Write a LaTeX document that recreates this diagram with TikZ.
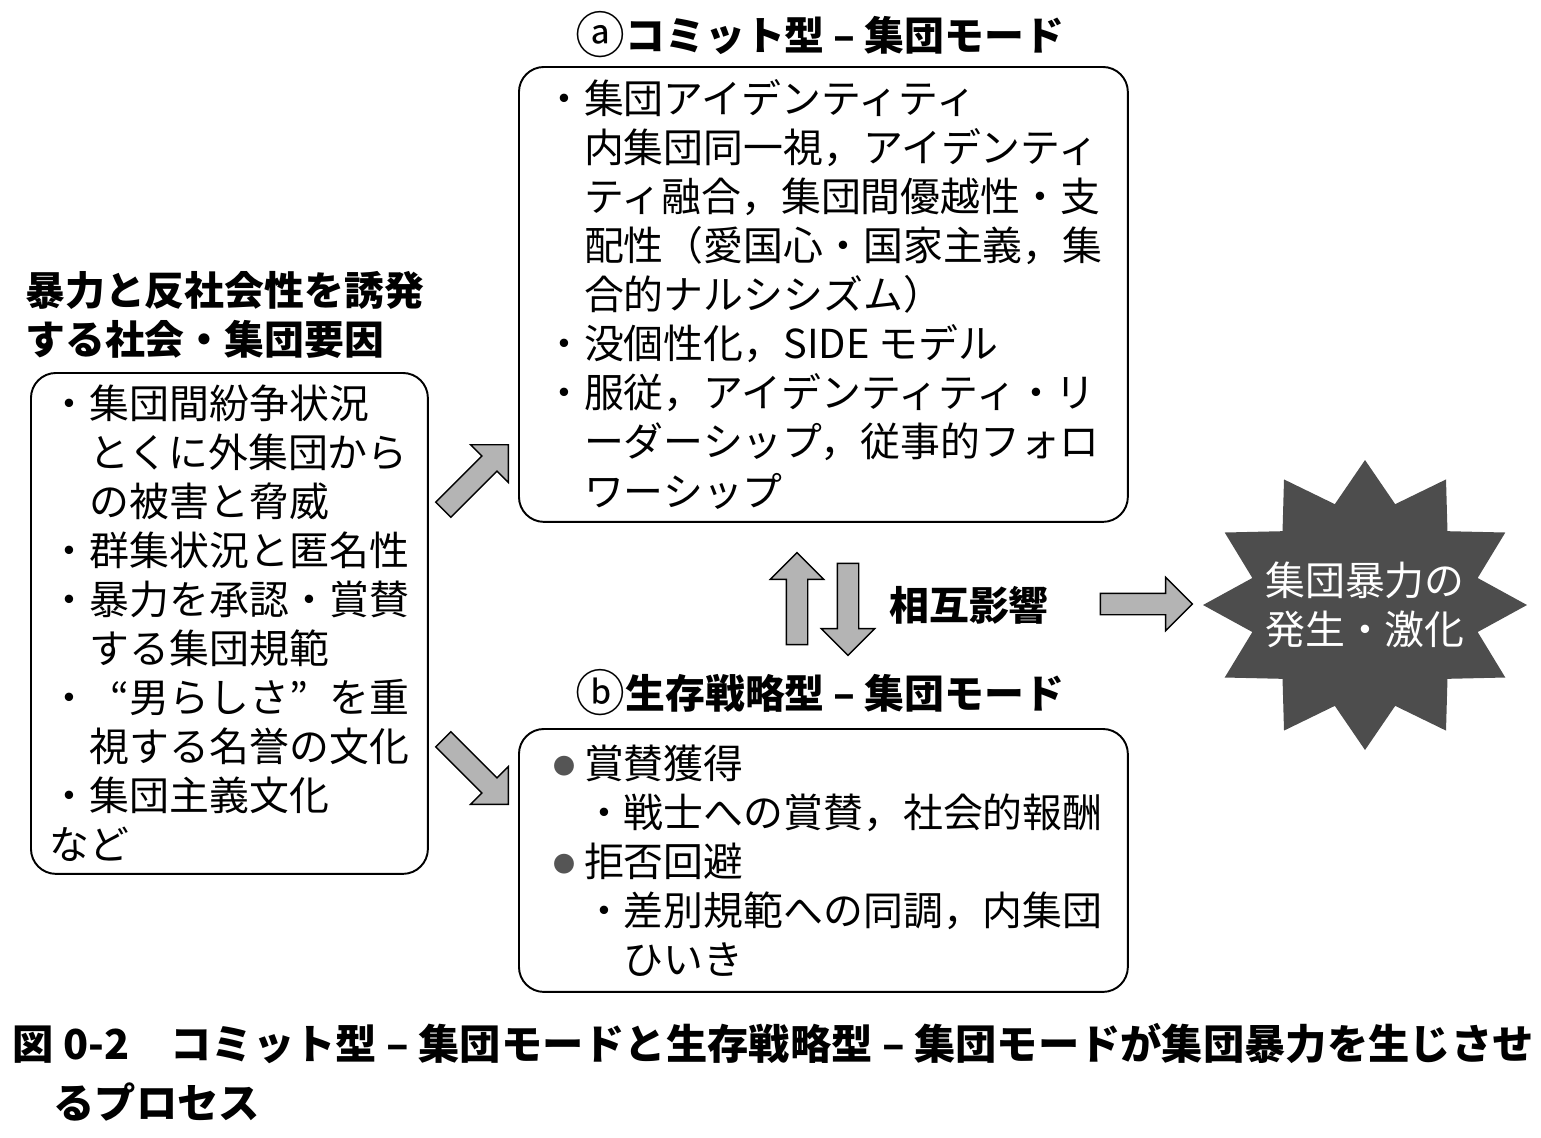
\documentclass[tikz,border=0pt]{standalone}
\usepackage{fontspec}
\setmainfont{Noto Sans CJK JP}
\usepackage{xcolor}
\usetikzlibrary{positioning, shapes.arrows, calc}
\definecolor{arrgray}{RGB}{180,180,180}
\definecolor{burstgray}{RGB}{77,77,77}
\definecolor{dotgray}{RGB}{85,85,85}
\newcommand{\bodyfont}{\fontsize{22.7pt}{27.9pt}\selectfont}
\newcommand{\capfont}{\fontsize{23.5pt}{28.5pt}\selectfont}
\newcommand{\ind}{\hspace*{1em}}
\newcommand{\bigdot}{\makebox[1em]{\raisebox{0.1em}{\fontsize{12.5pt}{12.5pt}\selectfont\color{dotgray}●}}}
\newcommand{\openq}{\makebox[1em][r]{“}}
\newcommand{\closeq}{\makebox[1em][l]{”}}
\newcommand{\circled}[1]{\raisebox{-0.09em}{\scalebox{1.25}{\mdseries #1}}}

\begin{document}
\begin{tikzpicture}[
      x=0.02cm, y=-0.02cm,
      box/.style={draw, rounded corners=0.5cm, line width=1.1pt, anchor=north west,
                  align=left, inner sep=0pt, font=\bodyfont},
      head/.style={font=\bodyfont\bfseries, inner sep=0pt},
      bigarr/.style={single arrow, draw, line width=0.8pt, fill=arrgray,
                     minimum height=1.84cm, minimum width=0pt, inner xsep=0pt, inner ysep=0.2cm,
                     single arrow head extend=0.32cm, single arrow tip angle=90}
  ]
    \useasboundingbox (0,0) rectangle (1541,1137);

    % left side: causes
    \node[head, anchor=west, align=left] (causehead) at (25,315) {暴力と反社会性を誘発\\する社会・集団要因};
    \node[box, minimum width=7.94cm, minimum height=10.02cm] (causes) at (30,372) {%
      ・集団間紛争状況\\
      \ind とくに外集団から\\
      \ind の被害と脅威\\
      ・群集状況と匿名性\\
      ・暴力を承認・賞賛\\
      \ind する集団規範\\
      ・\openq 男らしさ\closeq を重\\
      \ind 視する名誉の文化\\
      ・集団主義文化\\
      など};

    % the two modes
    \node[box, minimum width=12.18cm, minimum height=9.1cm] (commit) at (518,66) {%
      ・集団アイデンティティ\\
      \ind 内集団同一視，アイデンティ\\
      \ind ティ融合，集団間優越性・支\\
      \ind 配性（愛国心・国家主義，集\\
      \ind 合的ナルシシズム）\\
      ・没個性化，SIDE モデル\\
      ・服従，アイデンティティ・リ\\
      \ind ーダーシップ，従事的フォロ\\
      \ind ワーシップ};
    \node[head] (commithead) at (820,35) {\circled{ⓐ}コミット型 – 集団モード};

    \node[box, minimum width=12.18cm, minimum height=5.26cm] (survive) at (518,728) {%
      \bigdot 賞賛獲得\\
      \ind ・戦士への賞賛，社会的報酬\\
      \bigdot 拒否回避\\
      \ind ・差別規範への同調，内集団\\
      \ind\ind ひいき};
    \node[head] (survivehead) at (820,693) {\circled{ⓑ}生存戦略型 – 集団モード};

    % block arrows
    \node[bigarr, rotate=45]  (toCommit)  at (472,481) {};
    \node[bigarr, rotate=-45] (toSurvive) at (472,768) {};
    \node[bigarr, rotate=90]  (upArr)     at (797,604) {};
    \node[bigarr, rotate=-90] (downArr)   at (848,604) {};
    \node[head] (mutual) at (969,605) {相互影響};
    \node[bigarr] (toBurst) at (1141,604) {};

    % starburst
    \coordinate (bc) at (1365,605);
    \fill[burstgray] ($(bc)+(162,0)$)
      \foreach \k [evaluate=\k as \f using {1-0.28*mod(\k,2)}] in {1,...,23} {
        -- ($(bc)+({\f*162*cos(15*\k)},{\f*145*sin(15*\k)})$) } -- cycle;
    \node[font=\bodyfont, text=white, align=center] (outcome) at (bc) {集団暴力の\\発生・激化};

    % caption
    \node[font=\capfont\bfseries, anchor=north west, align=left, inner sep=0pt] (caption) at (12,1023)
      {図 0-2　コミット型 – 集団モードと生存戦略型 – 集団モードが集団暴力を生じさせ\\[5pt]\ind るプロセス};
  \end{tikzpicture}
\end{document}
